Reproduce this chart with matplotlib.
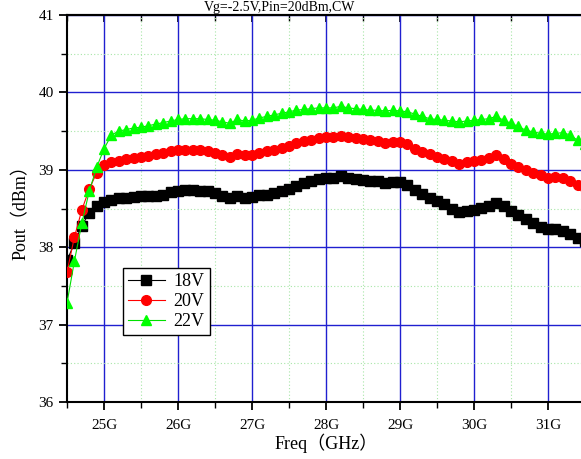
import numpy as np
import matplotlib
matplotlib.use("Agg")
import matplotlib.pyplot as plt
from matplotlib.ticker import MultipleLocator, FixedLocator

freq_start = 24.5
freq_step = 0.1

p18 = [37.83, 38.05, 38.28, 38.44, 38.53, 38.58, 38.61, 38.63, 38.64, 38.65,
       38.66, 38.66, 38.66, 38.68, 38.71, 38.73, 38.74, 38.74, 38.73, 38.72,
       38.70, 38.66, 38.64, 38.66, 38.64, 38.65, 38.68, 38.68, 38.70, 38.72,
       38.75, 38.79, 38.83, 38.86, 38.88, 38.89, 38.89, 38.92, 38.90, 38.88,
       38.87, 38.86, 38.85, 38.83, 38.84, 38.84, 38.80, 38.74, 38.69, 38.64,
       38.60, 38.56, 38.50, 38.46, 38.47, 38.48, 38.51, 38.53, 38.57, 38.53,
       38.47, 38.42, 38.36, 38.31, 38.26, 38.23, 38.23, 38.21, 38.17, 38.12,
       38.08]

p20 = [37.68, 38.13, 38.48, 38.75, 38.96, 39.06, 39.10, 39.12, 39.14, 39.15,
       39.17, 39.18, 39.20, 39.22, 39.24, 39.25, 39.26, 39.26, 39.26, 39.24,
       39.22, 39.19, 39.17, 39.20, 39.19, 39.19, 39.22, 39.24, 39.25, 39.28,
       39.31, 39.34, 39.37, 39.39, 39.41, 39.42, 39.42, 39.44, 39.42, 39.41,
       39.40, 39.38, 39.37, 39.35, 39.36, 39.36, 39.33, 39.27, 39.23, 39.21,
       39.17, 39.14, 39.11, 39.08, 39.10, 39.11, 39.13, 39.15, 39.19, 39.14,
       39.08, 39.04, 39.00, 38.96, 38.93, 38.90, 38.91, 38.90, 38.86, 38.80,
       38.77]

p22 = [37.28, 37.82, 38.31, 38.72, 39.03, 39.27, 39.45, 39.50, 39.52, 39.54,
       39.55, 39.57, 39.59, 39.61, 39.63, 39.65, 39.66, 39.66, 39.66, 39.65,
       39.64, 39.62, 39.60, 39.65, 39.63, 39.64, 39.67, 39.69, 39.71, 39.73,
       39.75, 39.77, 39.78, 39.79, 39.80, 39.80, 39.80, 39.82, 39.80, 39.79,
       39.78, 39.77, 39.77, 39.76, 39.77, 39.76, 39.75, 39.72, 39.69, 39.66,
       39.65, 39.64, 39.63, 39.62, 39.63, 39.64, 39.65, 39.66, 39.69, 39.64,
       39.60, 39.56, 39.51, 39.49, 39.47, 39.46, 39.47, 39.48, 39.45, 39.38,
       39.33]

series_labels = ["18V", "20V", "22V"]
xtick_vals = [25, 26, 27, 28, 29, 30, 31]
xtick_labels = ["25G", "26G", "27G", "28G", "29G", "30G", "31G"]
title = "Vg=-2.5V,Pin=20dBm,CW"
xlabel = "Freq（GHz）"
ylabel = "Pout（dBm）"

freq = freq_start + freq_step * np.arange(len(p18))

fam = ["Liberation Serif", "Noto Sans CJK SC", "DejaVu Sans"]
plt.rcParams["font.family"] = fam

W, H = 581, 459
fig = plt.figure(figsize=(W / 100, H / 100), dpi=100)
ax = fig.add_axes([67 / W, 57 / H, 518 / W, 387 / H])

styles = [
    dict(color="#000000", marker="s", mfc="#000000", mec="#000000", ms=6.5),
    dict(color="#FF0000", marker="o", mfc="#FF0000", mec="#FF0000", ms=7),
    dict(color="#00E000", marker="^", mfc="#00FF00", mec="#00FF00", ms=7.5),
]
for y, lab, st in zip([p18, p20, p22], series_labels, styles):
    ax.plot(freq, y, lw=0.8, label=lab, zorder=3, clip_on=True, **st)

ax.set_xlim(24.5, 31.5)
ax.set_ylim(36, 41)
ax.xaxis.set_major_locator(FixedLocator(xtick_vals))
ax.set_xticklabels(xtick_labels)
ax.xaxis.set_minor_locator(MultipleLocator(0.5))
ax.yaxis.set_major_locator(MultipleLocator(1))
ax.yaxis.set_minor_locator(MultipleLocator(0.5))

ax.grid(which="major", color="#2020D0", lw=1.0, ls="-", zorder=1)
ax.grid(which="minor", color="#A8E6A8", lw=0.8, ls=(0, (1, 2)), zorder=1)
ax.set_axisbelow(True)

for s in ax.spines.values():
    s.set_linewidth(1.5)
    s.set_color("black")

ax.tick_params(axis="both", which="major", direction="out", length=6, width=1.3,
               labelsize=11, top=False, right=False)
ax.tick_params(axis="both", which="minor", direction="out", length=4, width=1.0,
               top=False, right=False)
ax.tick_params(axis="x", pad=6)

# top inward ticks via secondary axis
sec = ax.secondary_xaxis("top")
sec.xaxis.set_major_locator(FixedLocator(xtick_vals))
sec.xaxis.set_minor_locator(MultipleLocator(0.5))
sec.tick_params(which="major", direction="in", length=5, width=1.2, labeltop=False)
sec.tick_params(which="minor", direction="in", length=4, width=1.0)
sec.spines["top"].set_linewidth(1.5)

ax.set_xlabel(xlabel, fontsize=13, labelpad=1)
ax.set_ylabel(ylabel, fontsize=13, labelpad=6)

leg = ax.legend(loc="upper left", bbox_to_anchor=((123 - 67) / 518, (402 - 268) / 387),
                borderaxespad=0, fontsize=13, frameon=True, fancybox=False,
                handlelength=2.0, handletextpad=0.5, borderpad=0.3, labelspacing=0.15)
leg.get_frame().set_edgecolor("black")
leg.get_frame().set_linewidth(1.0)
leg.get_frame().set_alpha(1)

fig.text(280 / W, 1 - 11 / H, title, ha="center", va="baseline", fontsize=10)

fig.savefig("out.png", dpi=100)
